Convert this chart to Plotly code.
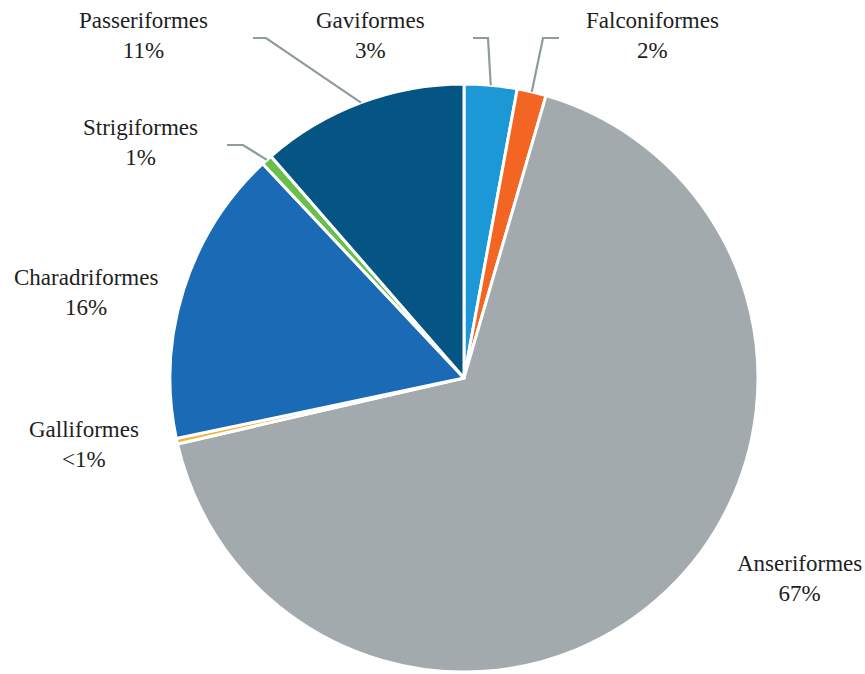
import math
import plotly.graph_objects as go

# Order shares of bird detections, clockwise from 12 o'clock
orders = ["Gaviformes", "Falconiformes", "Anseriformes", "Galliformes",
          "Charadriformes", "Strigiformes", "Passeriformes"]
shares = [2.9, 1.6, 66.9, 0.3, 16.3, 0.6, 11.4]
pct_labels = ["3%", "2%", "67%", "<1%", "16%", "1%", "11%"]
colors = ["#1b98d5", "#f26522", "#a2aaad", "#f5b335",
          "#1a6ab5", "#6abf4b", "#045484"]

W, H = 865, 674
CX, CY, R = 464, 378, 294  # pie centre / radius in pixels

# label placement (pixel centre of the two-line label)
label_pos = {
    "Gaviformes": (370, 36),
    "Falconiformes": (652, 36),
    "Anseriformes": (799, 578),
    "Galliformes": (84, 444),
    "Charadriformes": (86, 292),
    "Strigiformes": (140, 143),
    "Passeriformes": (143, 36),
}
# leader-line elbows: (outer end, elbow) for labelled slices with a connector
leaders = {
    "Passeriformes": ((253, 38), (266, 38)),
    "Gaviformes": ((473, 38), (488, 38)),
    "Falconiformes": ((559, 38), (543, 38)),
    "Strigiformes": ((227, 145), (243, 145)),
}

LABEL_FONT = "Times New Roman, Liberation Serif, DejaVu Serif, serif"


def px(x):
    return x / W


def py(y):
    return 1 - y / H


fig = go.Figure(go.Pie(
    labels=orders,
    values=shares,
    sort=False,
    direction="clockwise",
    rotation=0,
    marker=dict(colors=colors, line=dict(color="white", width=3)),
    textinfo="none",
    hoverinfo="label+percent",
    domain=dict(x=[px(CX - R), px(CX + R)], y=[py(CY + R), py(CY - R)]),
    showlegend=False,
))

total = sum(shares)
cum = 0.0
shapes = []
annotations = []
for name, v, pl in zip(orders, shares, pct_labels):
    mid = (cum + v / 2) / total * 2 * math.pi
    cum += v
    ex = CX + R * math.sin(mid)
    ey = CY - R * math.cos(mid)
    if name in leaders:
        (x0, y0), (x1, y1) = leaders[name]
        path = f"M {px(x0)},{py(y0)} L {px(x1)},{py(y1)} L {px(ex)},{py(ey)}"
        shapes.append(dict(type="path", path=path, xref="paper", yref="paper",
                           line=dict(color="#8e9ca0", width=2.2)))
    lx, ly = label_pos[name]
    annotations.append(dict(
        x=px(lx), y=py(ly), xref="paper", yref="paper",
        text=f"{name}<br>{pl}", showarrow=False, align="center",
        xanchor="center", yanchor="middle",
        font=dict(family=LABEL_FONT, size=23, color="#1e1e1e"),
    ))

fig.update_layout(
    width=W, height=H,
    margin=dict(l=0, r=0, t=0, b=0),
    paper_bgcolor="white",
    plot_bgcolor="white",
    font=dict(family=LABEL_FONT),
    shapes=shapes,
    annotations=annotations,
)

fig.write_html("out.html")
